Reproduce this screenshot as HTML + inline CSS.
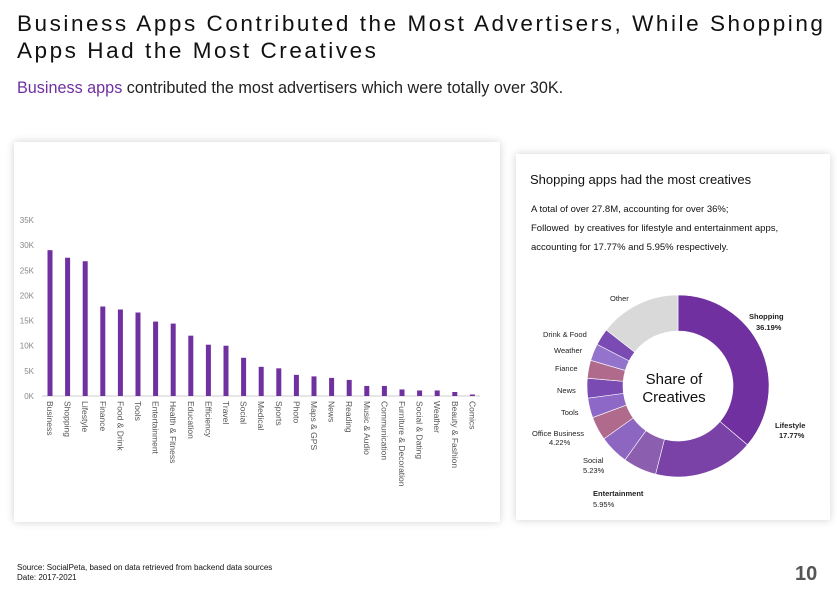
<!DOCTYPE html>
<html><head><meta charset="utf-8"><style>
body{margin:0;width:837px;height:592px;background:#fff;font-family:"Liberation Sans",sans-serif;position:relative;overflow:hidden}
.abs{position:absolute}
.panel{position:absolute;background:#fff;box-shadow:0 0 8px rgba(0,0,0,0.18)}
</style></head><body>
<div class="abs" style="left:17px;top:10px;font-size:22.5px;letter-spacing:2.55px;line-height:27px;color:#111;white-space:nowrap">Business Apps Contributed the Most Advertisers, While Shopping<br>Apps Had the Most Creatives</div>
<div class="abs" style="left:17px;top:79px;font-size:16.2px;color:#222;white-space:nowrap"><span style="color:#7030a0">Business apps</span> contributed the most advertisers which were totally over 30K.</div>
<div class="panel" style="left:14px;top:142px;width:486px;height:380px"></div>
<div class="panel" style="left:516px;top:154px;width:314px;height:366px"></div>
<div class="abs" style="left:530px;top:172px;font-size:13px;color:#111">Shopping apps had the most creatives</div>
<div class="abs" style="left:531px;top:200px;font-size:9.5px;line-height:19px;color:#111">A total of over 27.8M, accounting for over 36%;<br>Followed &nbsp;by creatives for lifestyle and entertainment apps,<br>accounting for 17.77% and 5.95% respectively.</div>
<svg class="abs" style="left:0;top:0" width="837" height="592" id="svg"></svg>
<div class="abs" style="left:17px;top:563px;font-size:8px;line-height:10px;color:#111">Source: SocialPeta, based on data retrieved from backend data sources<br>Date: 2017-2021</div>
<div class="abs" style="left:795px;top:563px;font-size:20px;font-weight:bold;color:#555">10</div>
<script>
const categories=["Business","Shopping","Lifestyle","Finance","Food & Drink","Tools","Entertainment","Health & Fitness","Education","Efficiency","Travel","Social","Medical","Sports","Photo","Maps & GPS","News","Reading","Music & Audio","Communication","Furniture & Decoration","Social & Dating","Weather","Beauty & Fashion","Comics"];
const values=[29,27.5,26.8,17.8,17.2,16.6,14.8,14.4,12,10.2,10,7.6,5.8,5.5,4.2,3.9,3.6,3.2,2,2,1.3,1.1,1.1,0.8,0.3];
const yTicks=[0,5,10,15,20,25,30,35];
const slices=["Shopping","Lifestyle","Entertainment","Social","Office Business","Tools","News","Fiance","Weather","Drink & Food","Other"];
const shares=[36.19,17.77,5.95,5.23,4.22,3.5,3.5,3.2,3,3,14.44];
const sliceColors=["#7030a0","#7a42a6","#8c5eb0","#8d66c2","#b06a8c","#8d68c6","#7a4bb2","#b06a8c","#9373cc","#7a4bb2","#d9d9d9"];
const NS="http://www.w3.org/2000/svg";const svg=document.getElementById('svg');
function mk(t,a,txt){const e=document.createElementNS(NS,t);for(const k in a)e.setAttribute(k,a[k]);if(txt!==undefined)e.textContent=txt;svg.appendChild(e);return e;}
const y0=396,yTop=220,x0=50,step=17.6;
const yS=v=>y0-(v/35)*(y0-yTop);const xS=i=>x0+i*step;
mk('line',{x1:42,x2:480,y1:y0,y2:y0,stroke:'#ccc','stroke-width':1});
yTicks.forEach(t=>{const e=mk('text',{x:34,y:yS(t)+3,'text-anchor':'end','font-size':8,fill:'#888'},t+'K');

});
categories.forEach((c,i)=>{const r=mk('rect',{x:xS(i)-2.5,y:yS(values[i]),width:5,height:y0-yS(values[i]),fill:'#7030a0'});


const t=mk('text',{x:0,y:0,'font-size':8.5,fill:'#555',transform:`translate(${xS(i)-3},${y0+5}) rotate(90)`},c);

});
const cx=678,cy=386,R=91,r0=55;let a=0;const tot=shares.reduce((s,v)=>s+v,0);
shares.forEach((s,i)=>{const a1=a+s/tot*2*Math.PI;const p=(ang,rr)=>[cx+rr*Math.sin(ang),cy-rr*Math.cos(ang)];
const [x1,y1]=p(a,R),[x2,y2]=p(a1,R),[x3,y3]=p(a1,r0),[x4,y4]=p(a,r0);const lg=a1-a>Math.PI?1:0;
const e=mk('path',{d:`M${x1},${y1}A${R},${R} 0 ${lg} 1 ${x2},${y2}L${x3},${y3}A${r0},${r0} 0 ${lg} 0 ${x4},${y4}Z`,fill:sliceColors[i],stroke:'#fff','stroke-width':0.6});

a=a1;});
mk('text',{x:674,y:384,'text-anchor':'middle','font-size':15,fill:'#111'},'Share of');
mk('text',{x:674,y:402,'text-anchor':'middle','font-size':15,fill:'#111'},'Creatives');
const labels=[["Other",610,301,"normal"],["Shopping",749,319,"bold"],["36.19%",756,330,"bold"],["Lifestyle",775,428,"bold"],["17.77%",779,438,"bold"],["Entertainment",593,496,"bold"],["5.95%",593,507,"normal"],["Social",583,463,"normal"],["5.23%",583,473,"normal"],["Office Business",532,436,"normal"],["4.22%",549,445,"normal"],["Tools",561,415,"normal"],["News",557,393,"normal"],["Fiance",555,371,"normal"],["Weather",554,353,"normal"],["Drink & Food",543,337,"normal"]];
labels.forEach(l=>{const e=mk('text',{x:l[1],y:l[2],'font-size':7.5,fill:'#222','font-weight':l[3]},l[0]);

});
</script>
</body></html>
